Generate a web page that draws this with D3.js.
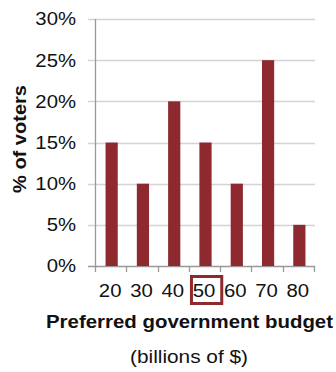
<!DOCTYPE html>
<html>
<head>
<meta charset="utf-8">
<script src="https://cdn.jsdelivr.net/npm/d3@7"></script>
<style>
  body { margin: 0; background: #fff; }
  text { font-family: "Liberation Sans", Arial, sans-serif; fill: #111; }
</style>
</head>
<body>
<script>
    var budgets = ["20", "30", "40", "50", "60", "70", "80"];
    var voterShare = [15, 10, 20, 15, 10, 25, 5];
    var yTicks = [0, 5, 10, 15, 20, 25, 30];
    var highlighted = "50";

    var margin = {top: 19, right: 21, bottom: 106, left: 96},
    width = 336 - margin.left - margin.right,
    height = 372 - margin.top - margin.bottom;

    var barColor = "#8e2a2f";
    var sx = 1.13; // the reference text is a little wider than Liberation Sans

    var x = d3.scaleBand().domain(budgets).range([0, width]).paddingInner(0.61).paddingOuter(0.305);
    var xb = d3.scaleBand().domain(budgets).range([0, width]);
    var y = d3.scaleLinear().domain([0, 30]).range([height, 0]);

    var svg = d3.select("body").append("svg")
      .attr("width", 336)
      .attr("height", 372)
    .append("g")
      .attr("transform", "translate(" + margin.left + "," + margin.top + ")");

    //gridlines
    svg.append("g")
      .selectAll("line")
      .data(yTicks)
      .enter().append("line")
      .attr("x1", -8)
      .attr("x2", width)
      .attr("y1", function(d) { return Math.round(y(d)) + 0.5; })
      .attr("y2", function(d) { return Math.round(y(d)) + 0.5; })
      .attr("stroke", function(d) { return d === 0 ? "#999" : "#d4d4d4"; })
      .attr("stroke-width", 1.3);

    //y tick labels
    svg.append("g")
      .selectAll("text")
      .data(yTicks)
      .enter().append("text")
      .attr("transform", function(d) { return "translate(-20," + y(d) + ") scale(" + sx + ",1)"; })
      .attr("dy", "0.36em")
      .attr("text-anchor", "end")
      .style("font-size", "18px")
      .text(function(d) { return d + "%"; });

    //y axis line
    svg.append("line")
      .attr("x1", -0.5).attr("x2", -0.5)
      .attr("y1", 0).attr("y2", height)
      .attr("stroke", "#999")
      .attr("stroke-width", 1.3);

    //x ticks
    svg.append("g")
      .selectAll("line")
      .data(d3.range(budgets.length + 1))
      .enter().append("line")
      .attr("x1", function(i) { return Math.round(i * xb.step()) - 0.5; })
      .attr("x2", function(i) { return Math.round(i * xb.step()) - 0.5; })
      .attr("y1", height)
      .attr("y2", height + 6)
      .attr("stroke", "#999")
      .attr("stroke-width", 1.3);

    //bars
    svg.append("g")
      .selectAll("rect")
      .data(voterShare)
      .enter().append("rect")
      .attr("x", function(d, i) { return x(budgets[i]); })
      .attr("width", x.bandwidth())
      .attr("y", function(d) { return y(d); })
      .attr("height", function(d) { return height - y(d); })
      .attr("fill", barColor);

    //x tick labels
    svg.append("g")
      .selectAll("text")
      .data(budgets)
      .enter().append("text")
      .attr("transform", function(d) {
        return "translate(" + (xb(d) + xb.bandwidth() / 2 - 1.5) + "," + (height + 31) + ") scale(" + sx + ",1)";
      })
      .attr("text-anchor", "middle")
      .style("font-size", "18px")
      .text(function(d) { return d; });

    //highlight box
    svg.append("rect")
      .attr("x", xb(highlighted) + 1.6)
      .attr("y", height + 10.5)
      .attr("width", 30.3)
      .attr("height", 27)
      .attr("fill", "none")
      .attr("stroke", barColor)
      .attr("stroke-width", 3);

    //x title
    svg.append("text")
      .attr("x", 93.5 - 143.5)
      .attr("y", height + 62)
      .attr("textLength", 287)
      .attr("lengthAdjust", "spacingAndGlyphs")
      .style("font-size", "18px")
      .style("font-weight", "bold")
      .text("Preferred government budget");

    svg.append("text")
      .attr("x", 34)
      .attr("y", height + 97)
      .attr("textLength", 118)
      .attr("lengthAdjust", "spacingAndGlyphs")
      .style("font-size", "18px")
      .text("(billions of $)");

    //y title
    svg.append("text")
      .attr("transform", "translate(" + (-70) + "," + 120 + ") rotate(-90)")
      .attr("x", -54)
      .attr("textLength", 108)
      .attr("lengthAdjust", "spacingAndGlyphs")
      .style("font-size", "19px")
      .style("font-weight", "bold")
      .text("% of voters");
</script>
</body>
</html>
